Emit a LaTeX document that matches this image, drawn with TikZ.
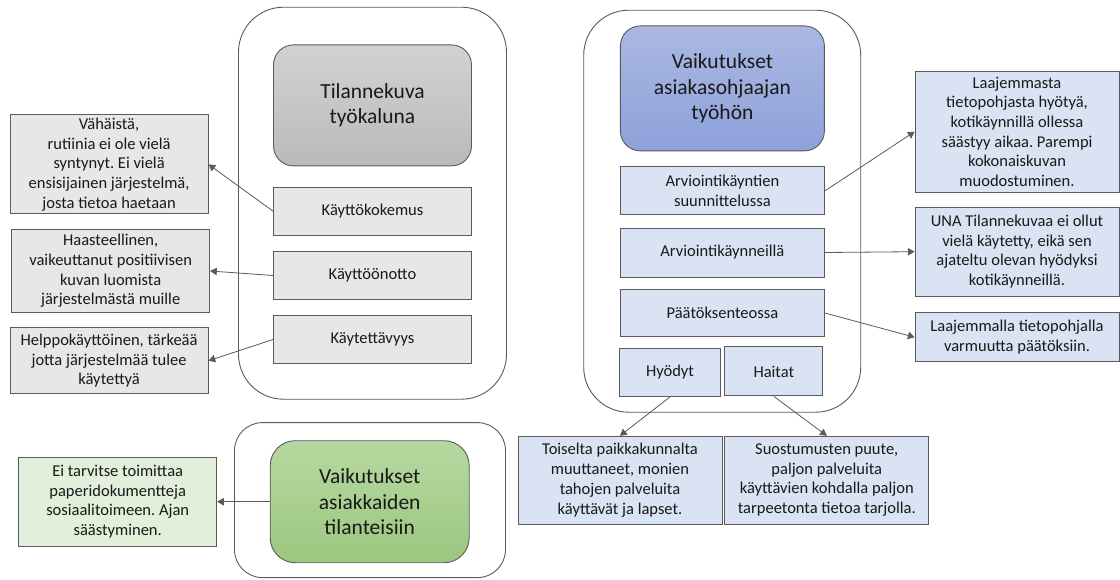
\documentclass[tikz,border=0pt]{standalone}
\usepackage{fontspec}
\setmainfont{Carlito}
\usepackage{tikz}
\usetikzlibrary{arrows}
\frenchspacing
\definecolor{linegray}{RGB}{90,90,90}
\definecolor{boxgray}{RGB}{231,231,231}
\definecolor{graytop}{RGB}{210,210,210}
\definecolor{graybot}{RGB}{186,186,186}
\definecolor{boxblue}{RGB}{218,227,243}
\definecolor{bluetop}{RGB}{170,184,226}
\definecolor{bluebot}{RGB}{141,162,218}
\definecolor{boxgreen}{RGB}{226,239,218}
\definecolor{greentop}{RGB}{183,216,162}
\definecolor{greenbot}{RGB}{155,199,127}

\begin{document}
\begin{tikzpicture}[x=1pt, y=-1pt]
\tikzset{cont/.style={draw=linegray, line width=0.9pt, rounded corners=45},
  box/.style={draw=linegray, line width=0.9pt, align=center, inner sep=1pt,
    minimum width=198, text=black!90, font=\fontsize{16.5}{19.7}\selectfont},
  graybox/.style={box, fill=boxgray},
  bluebox/.style={box, fill=boxblue, minimum width=204},
  greenbox/.style={box, fill=boxgreen},
  title/.style={draw=linegray, line width=0.9pt, rounded corners=20, align=center,
    text=black!90, font=\fontsize{21.5}{25.3}\selectfont}}
\tikzstyle{pointer} = [-triangle 60, draw=linegray, line width=0.8pt]
\useasboundingbox (0,0) rectangle (1120,579);

% tilannekuva
\node[cont, minimum width=268, minimum height=392] (c1) at (372.5,203.2) {};
\node[title, top color=graytop, bottom color=graybot, minimum width=198, minimum height=121] (t1) at (372.5,105.4) {Tilannekuva\\työkaluna};
\node[graybox, minimum height=48] (k1) at (372.5,211.2) {Käyttökokemus};
\node[graybox, minimum height=48] (k2) at (372.5,275.5) {Käyttöönotto};
\node[graybox, minimum height=48] (k3) at (372.5,339.5) {Käytettävyys};
\node[graybox, minimum height=99] (v1) at (109.1,164.4) {Vähäistä,\\rutiinia ei ole vielä\\syntynyt. Ei vielä\\ensisijainen järjestelmä,\\josta tietoa haetaan};
\node[graybox, minimum height=83] (v2) at (110.7,271) {Haasteellinen,\\vaikeuttanut positiivisen\\kuvan luomista\\järjestelmästä muille};
\node[graybox, minimum height=66] (v3) at (109.1,360.7) {Helppokäyttöinen, tärkeää\\jotta järjestelmää tulee\\käytettyä};
\draw (k1.west) edge [pointer] (v1.east);
\draw (k2.west) edge [pointer] (v2.east);
\draw (k3.west) edge [pointer] (v3.east);

% asiakkaat
\node[cont, rounded corners=28, minimum width=271, minimum height=155] (c2) at (370,500.1) {};
\node[title, top color=greentop, bottom color=greenbot, rounded corners=25, minimum width=199, minimum height=122] (t3) at (369.7,501.7) {Vaikutukset\\asiakkaiden\\tilanteisiin};
\node[greenbox, minimum height=89] (g1) at (117.7,501.7) {Ei tarvitse toimittaa\\paperidokumentteja\\sosiaalitoimeen. Ajan\\säästyminen.};
\draw (t3.west) edge [pointer] (g1.east);

% asiakasohjaaja
\node[cont, minimum width=277, minimum height=402] (c3) at (722.2,211.2) {};
\node[title, top color=bluetop, bottom color=bluebot, minimum width=204, minimum height=125] (t2) at (722.4,88.4) {Vaikutukset\\asiakasohjaajan\\työhön};
\node[bluebox, minimum height=48] (a1) at (722.4,190.9) {Arviointikäyntien\\suunnittelussa};
\node[bluebox, minimum height=49] (a2) at (722.4,252.5) {Arviointikäynneillä};
\node[bluebox, minimum height=47] (a3) at (722.4,313) {Päätöksenteossa};
\node[bluebox, minimum width=101, minimum height=48] (h1) at (670,372.5) {Hyödyt};
\node[bluebox, minimum width=98, minimum height=49] (h2) at (773.8,371.4) {Haitat};
\node[bluebox, minimum height=121] (r1) at (1017,131.7) {Laajemmasta\\tietopohjasta hyötyä,\\kotikäynnillä ollessa\\säästyy aikaa. Parempi\\kokonaiskuvan\\muodostuminen.};
\node[bluebox, minimum height=89] (r2) at (1017,251.7) {UNA Tilannekuvaa ei ollut\\vielä käytetty, eikä sen\\ajateltu olevan hyödyksi\\kotikäynneillä.};
\node[bluebox, minimum height=49] (r3) at (1017,337.2) {Laajemmalla tietopohjalla\\varmuutta päätöksiin.};
\node[bluebox, minimum height=88] (s1) at (620,480.2) {Toiselta paikkakunnalta\\muuttaneet, monien\\tahojen palveluita\\käyttävät ja lapset.};
\node[bluebox, minimum height=88] (s2) at (826.8,480.2) {Suostumusten puute,\\paljon palveluita\\käyttävien kohdalla paljon\\tarpeetonta tietoa tarjolla.};
\draw (a1.east) edge [pointer] (r1.west);
\draw (a2.east) edge [pointer] (r2.west);
\draw (a3.east) edge [pointer] (r3.west);
\draw (h1.south) edge [pointer] (s1.north);
\draw (h2.south) edge [pointer] (s2.north);
\end{tikzpicture}
\end{document}
